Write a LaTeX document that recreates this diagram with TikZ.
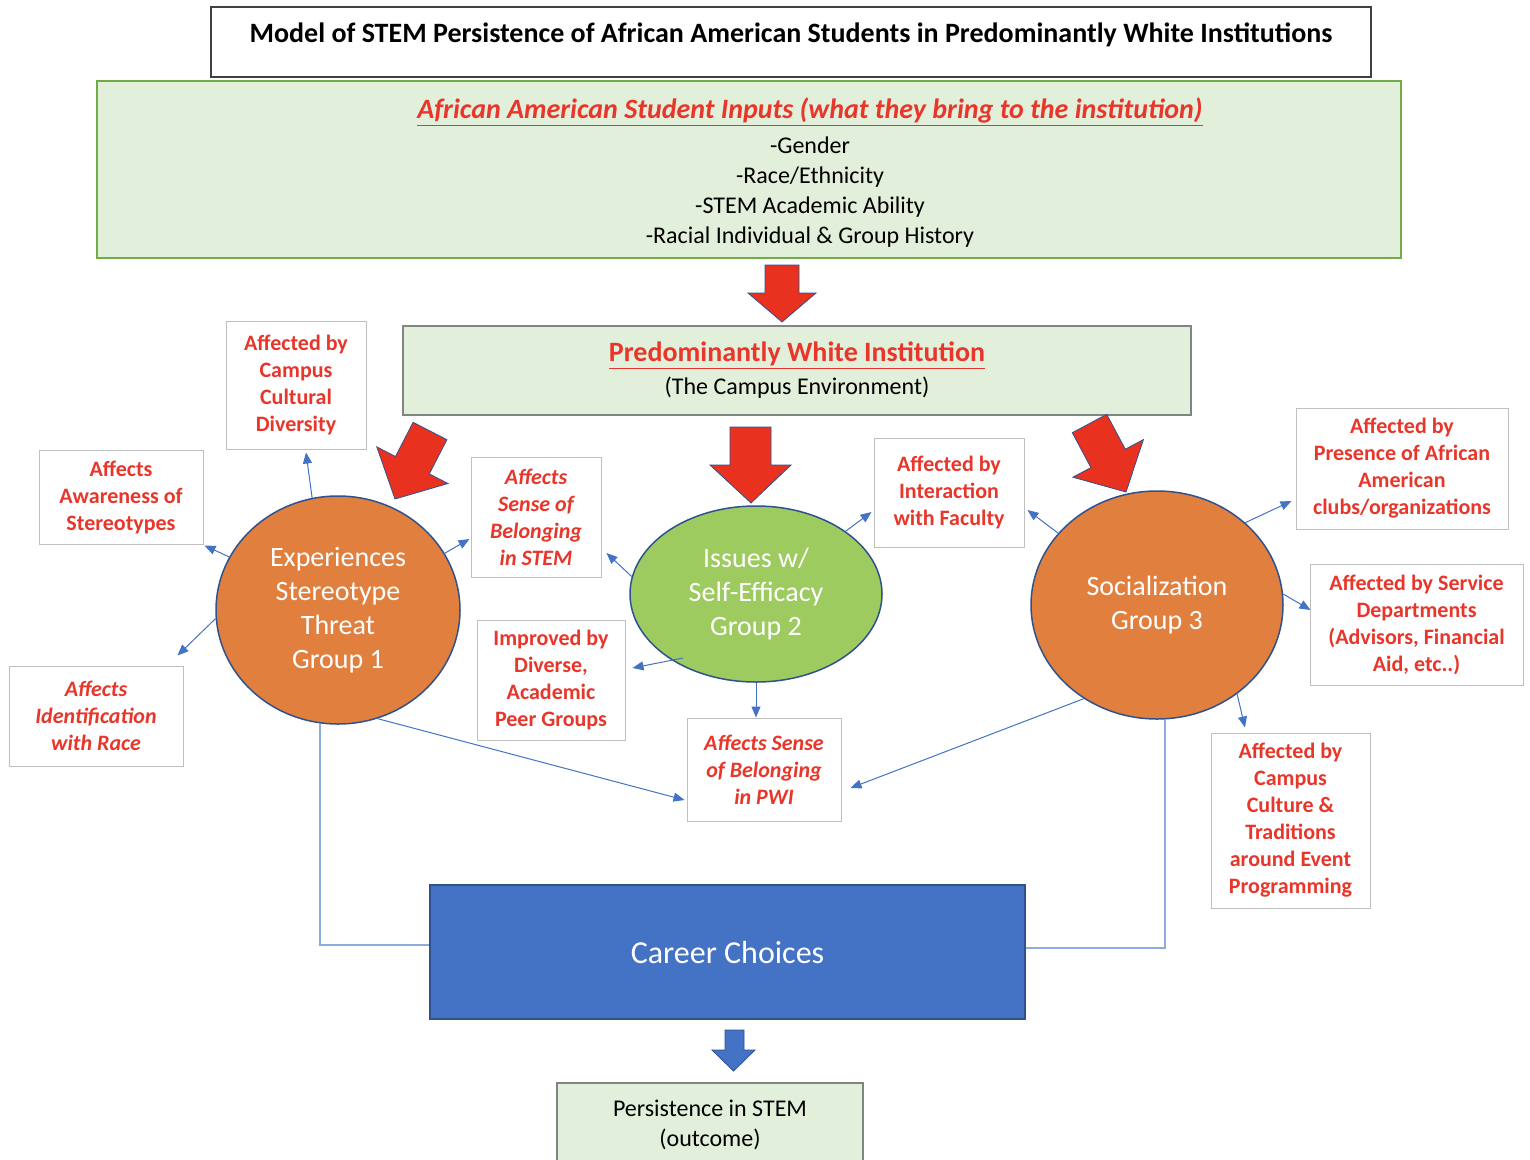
\documentclass[tikz,border=0pt]{standalone}
\usepackage{fontspec}
\setmainfont{Carlito}
\usetikzlibrary{shapes.geometric,arrows.meta,calc}
\definecolor{lblred}{HTML}{E8362A}
\definecolor{boxgreen}{HTML}{E2EFDA}
\definecolor{greenborder}{HTML}{70AD47}
\definecolor{darkblue}{HTML}{2F528F}
\definecolor{accblue}{HTML}{4472C4}
\definecolor{orng}{HTML}{E07F3E}
\definecolor{lgreen}{HTML}{9DCB5F}
\definecolor{lblgray}{HTML}{BFBFBF}
\definecolor{arrred}{HTML}{E8321F}
\definecolor{lineblue}{HTML}{8FAADC}
\definecolor{boxgray}{HTML}{7F867F}
\begin{document}
\begin{tikzpicture}[x=1pt,y=-1pt,
  lbl/.style={draw=lblgray, line width=1pt, fill=white, text=lblred, font=\bfseries\fontsize{22}{27}\selectfont, align=center, inner sep=0pt},
  lbli/.style={lbl, font=\bfseries\itshape\fontsize{22}{27}\selectfont},
  grp/.style={ellipse, draw=darkblue, line width=1.5pt, text=white, font=\fontsize{28}{34}\selectfont, align=center, inner sep=0pt},
  conn/.style={accblue, line width=1pt, -{Triangle[length=11pt,width=9pt]}},
  cline/.style={lineblue, line width=1.3pt},
  redarr/.style={fill=arrred, draw=darkblue, line width=0.8pt},
  bluearr/.style={fill=accblue, draw=darkblue, line width=0.8pt},
  greenbox/.style={fill=boxgreen, line width=1.5pt, inner sep=0pt}
]
\useasboundingbox (0,0) rectangle (1530,1159);
\fill[white] (0,0) rectangle (1530,1159);

% title
\node[draw=black!75, line width=1.2pt, minimum width=1160pt, minimum height=70pt, inner sep=0pt,
      font=\bfseries\fontsize{28}{32}\selectfont, text height=20pt, text depth=20pt] (title) at (791,42)
  {Model of STEM Persistence of African American Students in Predominantly White Institutions};

% inputs
\node[greenbox, draw=greenborder, minimum width=1304pt, minimum height=177pt] (inputs) at (749,169.5) {};
\node[align=center, font=\fontsize{24}{30}\selectfont, inner sep=0pt] (inputsText) at (810,173)
  {{\fontsize{28}{30}\selectfont\bfseries\itshape\color{lblred}\underline{African American Student Inputs (what they bring to the institution)}}\\[5pt]
   -Gender\\ -Race/Ethnicity\\ -STEM Academic Ability\\ -Racial Individual \& Group History};

% PWI
\node[greenbox, draw=boxgray, minimum width=788pt, minimum height=89pt, align=center,
      font=\fontsize{24}{33}\selectfont] (pwi) at (797,370.5)
  {{\fontsize{28}{33}\selectfont\bfseries\color{lblred}\underline{Predominantly White Institution}}\\ (The Campus Environment)};

% big arrows
\draw[redarr] (765,265) -- (799,265) -- (799,293) -- (816,293) -- (782,322) -- (748,293) -- (765,293) -- cycle;
\draw[redarr] (730,427) -- (771,427) -- (771,465) -- (791,465) -- (751,503) -- (710,465) -- (730,465) -- cycle;
\draw[redarr] (446.9,439.7) -- (429.3,473.9) -- (448,483.5) -- (395,499) -- (376.8,446.9) -- (395.5,456.5) -- (413.1,422.3) -- cycle;
\draw[redarr] (1106.7,414.3) -- (1125.3,449.2) -- (1143.4,439.6) -- (1126,492) -- (1072.8,477.2) -- (1090.9,467.6) -- (1072.3,432.7) -- cycle;

% groups
\node[grp, fill=orng, minimum width=244pt, minimum height=228pt] (c1) at (338,610) {Experiences\\ Stereotype\\ Threat\\ Group 1};
\node[grp, fill=lgreen, minimum width=252pt, minimum height=176pt] (c2) at (756,594) {Issues w/\\ Self-Efficacy\\ Group 2};
\node[grp, fill=orng, minimum width=252pt, minimum height=228pt] (c3) at (1157,605) {Socialization\\ Group 3};

% labels
\node[lbl, minimum width=140pt, minimum height=128pt] (A) at (296,385) {Affected by\\ Campus\\ Cultural\\ Diversity};
\node[lbl, minimum width=164pt, minimum height=94pt] (B) at (121,497) {Affects\\ Awareness of\\ Stereotypes};
\node[lbli, minimum width=174pt, minimum height=100pt] (C) at (96,716) {Affects\\ Identification\\ with Race};
\node[lbli, minimum width=130pt, minimum height=120pt] (D) at (536,517) {Affects\\ Sense of\\ Belonging\\ in STEM};
\node[lbl, minimum width=148pt, minimum height=120pt] (E) at (551,680) {Improved by\\ Diverse,\\ Academic\\ Peer Groups};
\node[lbli, minimum width=154pt, minimum height=103pt] (F) at (764,769.5) {Affects Sense\\ of Belonging\\ in PWI};
\node[lbl, minimum width=150pt, minimum height=109pt] (G) at (949,492.5) {Affected by\\ Interaction\\ with Faculty};
\node[lbl, minimum width=212pt, minimum height=121pt] (H) at (1402,468.5) {Affected by\\ Presence of African\\ American\\ clubs/organizations};
\node[lbl, minimum width=213pt, minimum height=121pt] (I) at (1416.5,624.5) {Affected by Service\\ Departments\\ (Advisors, Financial\\ Aid, etc..)};
\node[lbl, minimum width=159pt, minimum height=175pt] (J) at (1290.5,820.5) {Affected by\\ Campus\\ Culture \&\\ Traditions\\ around Event\\ Programming};

% career + outcome
\node[draw=darkblue, fill=accblue, line width=1.5pt, minimum width=595pt, minimum height=134pt, inner sep=0pt,
      text=white, font=\fontsize{32}{36}\selectfont] (cc) at (727.5,952) {Career Choices};
\draw[bluearr] (725,1030) -- (744,1030) -- (744,1050) -- (755,1050) -- (733.5,1071) -- (712,1050) -- (725,1050) -- cycle;
\node[greenbox, draw=boxgray, minimum width=306pt, minimum height=84pt, align=center,
      font=\fontsize{24}{30}\selectfont] (pers) at (710,1125) {Persistence in STEM\\ (outcome)};

% connectors
\draw[conn] (c1.103) -- ($(A.south)+(10,3)$);
\draw[conn] (c1.154) -- ($(B.south east)+(1,1)$);
\draw[conn] (c1.184) -- ($(C.north east)+(-6,-10)$);
\draw[conn] (c1.28) -- ($(D.west)+(-1,22)$);
\draw[conn] (c1.-70) -- ($(F.west)+(-2,30.5)$);
\draw[conn] (c2.172) -- ($(D.east)+(5,36)$);
\draw[conn] ($(c2.center)+(-73,64)$) -- ($(E.east)+(7,-12)$);
\draw[conn] (c2.south) -- (c2.south |- F.north);
\draw[conn] (c2.35) -- ($(G.west)+(-2,19.5)$);
\draw[conn] (c3.144) -- ($(G.east)+(3,17.5)$);
\draw[conn] (c3.43) -- ($(H.west)+(-4,32.5)$);
\draw[conn] (c3.5) -- ($(I.west)+(1,-14.5)$);
\draw[conn] (c3.-48.6) -- ($(J.north)+(-45.5,-5)$);
\draw[conn] (c3.232.5) -- ($(F.east)+(9,18.5)$);
\draw[cline] (c1.261) |- ([yshift=7pt]cc.west);
\draw[cline] (c3.274) |- ([yshift=4pt]cc.east);
\end{tikzpicture}
\end{document}
